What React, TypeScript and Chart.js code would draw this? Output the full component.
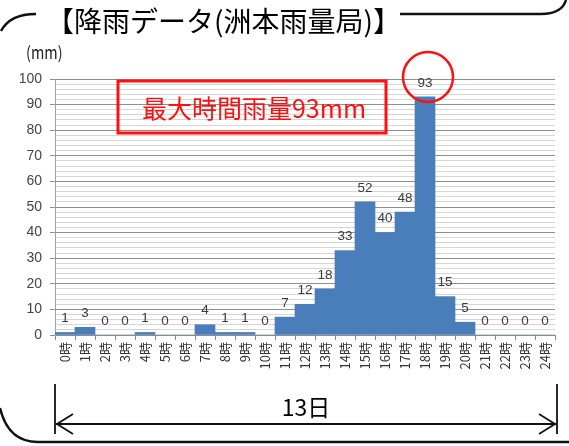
import React, { useEffect, useRef } from "react";
import { Chart, registerables } from "chart.js";

Chart.register(...registerables);

const hourLabels = [
  "0時", "1時", "2時", "3時", "4時", "5時", "6時", "7時", "8時", "9時",
  "10時", "11時", "12時", "13時", "14時", "15時", "16時", "17時", "18時", "19時",
  "20時", "21時", "22時", "23時", "24時",
];
const rainfall = [1, 3, 0, 0, 1, 0, 0, 4, 1, 1, 0, 7, 12, 18, 33, 52, 40, 48, 93, 15, 5, 0, 0, 0, 0];

const titleText = "【降雨データ(洲本雨量局)】";
const unitText = "(mm)";
const maxText = "最大時間雨量93mm";
const dayText = "13日";
const peakIndex = 18;

const JP = '"Noto Sans CJK JP", "Noto Sans", sans-serif';
const NUM = '"Liberation Sans", Arial, sans-serif';

const labelPlugin = {
  id: "barValueLabels",
  afterDatasetsDraw(chart: any) {
    const ctx = chart.ctx;
    const meta = chart.getDatasetMeta(0);
    ctx.save();
    ctx.font = `13.5px ${NUM}`;
    ctx.fillStyle = "#3a3a3a";
    ctx.textAlign = "center";
    ctx.textBaseline = "middle";
    meta.data.forEach((bar: any, i: number) => {
      ctx.fillText(String(rainfall[i]), bar.x, bar.y - 14);
    });
    ctx.restore();
  },
};

const decorPlugin = {
  id: "decor",
  afterDraw(chart: any) {
    const ctx = chart.ctx;
    const xs = chart.scales.x;
    const ys = chart.scales.y;
    ctx.save();

    // frame lines
    ctx.strokeStyle = "#111";
    ctx.lineWidth = 2.5;
    ctx.beginPath();
    ctx.moveTo(1, 31);
    ctx.quadraticCurveTo(10, 14, 36, 14);
    ctx.stroke();
    ctx.beginPath();
    ctx.moveTo(400, 14);
    ctx.lineTo(541, 14);
    ctx.quadraticCurveTo(562, 14, 566, 0);
    ctx.stroke();
    ctx.beginPath();
    ctx.moveTo(0, 408);
    ctx.quadraticCurveTo(8, 442, 38, 442);
    ctx.lineTo(569, 442);
    ctx.stroke();

    // title
    ctx.fillStyle = "#000";
    ctx.font = `28px ${JP}`;
    ctx.textAlign = "left";
    ctx.textBaseline = "middle";
    ctx.fillText(titleText, 46, 21);

    // unit
    ctx.save();
    ctx.font = `17px ${JP}`;
    ctx.fillStyle = "#222";
    ctx.translate(26, 53);
    ctx.scale(0.85, 1);
    ctx.fillText(unitText, 0, 0);
    ctx.restore();

    // red box annotation
    ctx.strokeStyle = "#ff1010";
    ctx.lineWidth = 3;
    ctx.strokeRect(118, 81, 268, 52);
    ctx.fillStyle = "#ff1010";
    ctx.font = `25px ${JP}`;
    ctx.textAlign = "center";
    ctx.fillText(maxText, 254, 108);

    // circle around peak
    const cx = xs.getPixelForValue(peakIndex) + 3;
    const cy = ys.getPixelForValue(100) - 2;
    ctx.lineWidth = 2.5;
    ctx.beginPath();
    ctx.arc(cx, cy, 25, 0, Math.PI * 2);
    ctx.stroke();

    // day arrow
    const left = chart.chartArea.left;
    const right = chart.chartArea.right + 2;
    const ay = 424;
    ctx.strokeStyle = "#111";
    ctx.lineWidth = 1.8;
    ctx.beginPath();
    ctx.moveTo(left, 384);
    ctx.lineTo(left, 434);
    ctx.moveTo(right, 384);
    ctx.lineTo(right, 434);
    ctx.moveTo(left + 1, ay);
    ctx.lineTo(right - 1, ay);
    ctx.moveTo(left + 18, ay - 10);
    ctx.lineTo(left + 2, ay);
    ctx.lineTo(left + 18, ay + 10);
    ctx.moveTo(right - 18, ay - 10);
    ctx.lineTo(right - 2, ay);
    ctx.lineTo(right - 18, ay + 10);
    ctx.stroke();
    ctx.fillStyle = "#000";
    ctx.font = `23px ${JP}`;
    ctx.textAlign = "center";
    ctx.fillText(dayText, (left + right) / 2, 407);

    ctx.restore();
  },
};

export default function App() {
  const ref = useRef<HTMLCanvasElement | null>(null);
  useEffect(() => {
    if (!ref.current) return;
    const chart = new Chart(ref.current, {
      type: "bar",
      data: {
        labels: hourLabels,
        datasets: [
          {
            data: rainfall,
            backgroundColor: "#4a7ebb",
            borderWidth: 0,
            barPercentage: 1,
            categoryPercentage: 1,
          },
        ],
      },
      options: {
        responsive: false,
        animation: false,
        devicePixelRatio: 1,
        layout: { padding: { left: 0, top: 79, right: 14, bottom: 71 } },
        plugins: {
          legend: { display: false },
          tooltip: { enabled: false },
          title: { display: false },
        },
        scales: {
          x: {
            offset: true,
            grid: {
              offset: true,
              drawOnChartArea: false,
              drawTicks: true,
              tickLength: 5,
              tickColor: "#8c8c8c",
            },
            border: { color: "#8c8c8c", width: 1 },
            ticks: {
              autoSkip: false,
              minRotation: 90,
              maxRotation: 90,
              padding: 2,
              color: "#333",
              font: { family: JP, size: 13 },
            },
            afterFit(scale: any) {
              scale.height = 40;
            },
          },
          y: {
            min: 0,
            max: 100,
            border: { color: "#a0a0a0", width: 1 },
            grid: {
              color: (c: any) => (c.tick && c.tick.value % 10 === 0 ? "#8f8f8f" : "#d6d6d6"),
              tickColor: (c: any) => (c.tick && c.tick.value % 10 === 0 ? "#8f8f8f" : "rgba(0,0,0,0)"),
              tickLength: 5,
            },
            ticks: {
              stepSize: 2,
              maxTicksLimit: 60,
              autoSkip: false,
              padding: 8,
              color: "#444",
              font: { family: NUM, size: 14 },
              callback: (v: any) => (Number(v) % 10 === 0 ? String(v) : ""),
            },
            afterFit(scale: any) {
              scale.width = 55;
            },
          },
        },
      },
      plugins: [labelPlugin, decorPlugin],
    });
    return () => chart.destroy();
  }, []);
  return (
    <div style={{ position: "fixed", left: 0, top: 0, width: 569, height: 446, background: "#fff" }}>
      <canvas ref={ref} width={569} height={446} style={{ width: 569, height: 446, display: "block" }} />
    </div>
  );
}
